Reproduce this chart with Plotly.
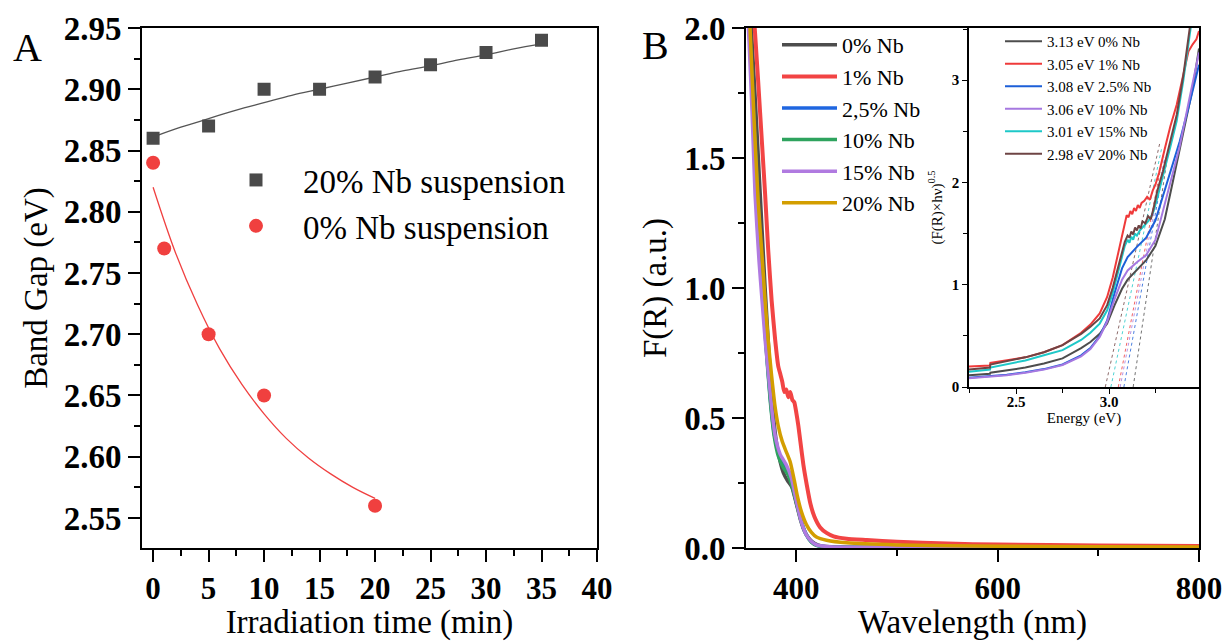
import plotly.graph_objects as go

SERIF = "Liberation Serif"
W, H = 1230, 641

# ---------------- Panel A data ----------------
time_20 = [0, 5, 10, 15, 20, 25, 30, 35]
gap_20 = [2.86, 2.87, 2.90, 2.90, 2.91, 2.92, 2.93, 2.94]
time_0 = [0, 1, 5, 10, 20]
gap_0 = [2.84, 2.77, 2.70, 2.65, 2.56]
fit20_t = [0, 2.5, 5, 7.5, 10, 12.5, 15, 17.5, 20, 22.5, 25, 27.5, 30, 32.5, 35]
fit20_g = [2.861, 2.869, 2.876, 2.883, 2.889, 2.895, 2.900, 2.905, 2.910, 2.915, 2.919, 2.924, 2.928, 2.933, 2.937]
fit0_t = [0, 2, 4, 6, 8, 10, 12, 14, 16, 18, 20]
fit0_g = [2.820, 2.767, 2.724, 2.688, 2.659, 2.635, 2.615, 2.599, 2.586, 2.575, 2.566]

# ---------------- Panel B data (main) ----------------
wl_0 = [350, 355, 359, 362, 366, 369, 373, 377, 380.5, 384, 387, 391, 395.5, 400, 404, 408, 413, 418, 425, 440, 500, 600, 800]
F_0 = [2.40, 2.02, 1.74, 1.52, 1.22, 1.00, 0.74, 0.52, 0.40, 0.33, 0.29, 0.26, 0.235, 0.17, 0.11, 0.065, 0.035, 0.018, 0.008, 0.004, 0.002, 0.001, 0.001]
wl_1 = [350, 356, 359, 362, 366, 369, 372, 375.5, 379, 382, 384, 386, 388, 390, 392, 394, 396, 398, 400, 402, 404, 407, 410.5, 414, 418, 423.5, 430, 437, 450, 470, 500, 550, 600, 700, 800]
F_1 = [2.70, 2.15, 1.98, 1.80, 1.55, 1.36, 1.15, 0.95, 0.80, 0.70, 0.67, 0.64, 0.60, 0.61, 0.58, 0.60, 0.57, 0.56, 0.52, 0.47, 0.41, 0.32, 0.24, 0.17, 0.12, 0.08, 0.058, 0.045, 0.036, 0.031, 0.024, 0.017, 0.013, 0.010, 0.008]
wl_25 = [350, 354, 358, 362, 366, 370, 374, 378, 383, 388, 393, 398, 402, 406, 410, 415, 420, 430, 500, 800]
F_25 = [2.25, 1.95, 1.62, 1.32, 1.02, 0.78, 0.58, 0.44, 0.36, 0.32, 0.28, 0.21, 0.15, 0.09, 0.05, 0.023, 0.011, 0.004, 0.002, 0.001]
wl_10 = [350, 354, 358, 362, 366, 370, 374, 378, 382, 387, 392, 397, 401, 405, 410, 415, 420, 430, 500, 800]
F_10 = [2.30, 1.97, 1.63, 1.32, 1.02, 0.77, 0.57, 0.43, 0.355, 0.31, 0.28, 0.22, 0.16, 0.10, 0.05, 0.022, 0.010, 0.004, 0.002, 0.001]
wl_15 = [350, 353, 356, 359, 363, 366, 369, 372.5, 376, 379, 384, 390, 395, 400, 405, 410, 415, 420, 430, 450, 500, 800]
F_15 = [2.20, 1.95, 1.68, 1.36, 1.10, 0.95, 0.80, 0.66, 0.52, 0.43, 0.36, 0.32, 0.27, 0.18, 0.10, 0.05, 0.025, 0.012, 0.006, 0.003, 0.002, 0.001]
wl_20 = [350, 354, 358, 362, 366, 369, 372, 375.5, 379, 382, 386, 390, 394, 398, 401, 405, 410, 415, 420, 430, 450, 500, 600, 700, 800]
F_20 = [2.50, 2.00, 1.65, 1.34, 1.12, 0.95, 0.80, 0.66, 0.54, 0.47, 0.41, 0.37, 0.33, 0.26, 0.20, 0.14, 0.09, 0.06, 0.042, 0.030, 0.020, 0.012, 0.007, 0.005, 0.004]

main_names = ["0% Nb", "1% Nb", "2,5% Nb", "10% Nb", "15% Nb", "20% Nb"]
main_colors = ["#4d4d4d", "#f24444", "#1f66e0", "#2ea35e", "#b07ae0", "#d39e00"]

# ---------------- Inset (Tauc) data ----------------
E_0 = [2.247, 2.36, 2.362, 2.45, 2.55, 2.65, 2.75, 2.85, 2.90, 2.95, 2.99, 3.03, 3.07, 3.10, 3.15, 3.20, 3.25, 3.30, 3.34, 3.38, 3.42, 3.45, 3.484]
T_0 = [0.115, 0.13, 0.14, 0.16, 0.19, 0.23, 0.28, 0.38, 0.44, 0.52, 0.62, 0.80, 0.96, 1.05, 1.14, 1.24, 1.38, 1.64, 1.98, 2.32, 2.66, 2.92, 3.31]
E_1 = [2.247, 2.30, 2.36, 2.362, 2.45, 2.55, 2.65, 2.75, 2.85, 2.90, 2.95, 2.99, 3.02, 3.05, 3.07, 3.085, 3.095, 3.105, 3.115, 3.125, 3.135, 3.145, 3.155, 3.165, 3.175, 3.19, 3.205, 3.22, 3.235, 3.25, 3.27, 3.30, 3.33, 3.364, 3.40, 3.427, 3.45, 3.47, 3.484]
T_1 = [0.20, 0.205, 0.21, 0.235, 0.26, 0.29, 0.34, 0.41, 0.53, 0.61, 0.72, 0.88, 1.07, 1.32, 1.50, 1.63, 1.68, 1.66, 1.72, 1.69, 1.75, 1.72, 1.78, 1.75, 1.80, 1.82, 1.86, 1.83, 1.92, 1.98, 2.10, 2.33, 2.55, 2.76, 3.05, 3.28, 3.35, 3.40, 3.48]
E_25 = [2.247, 2.36, 2.45, 2.55, 2.65, 2.75, 2.85, 2.90, 2.95, 2.99, 3.03, 3.07, 3.10, 3.15, 3.20, 3.25, 3.29, 3.33, 3.38, 3.43, 3.484]
T_25 = [0.09, 0.105, 0.12, 0.145, 0.175, 0.22, 0.31, 0.38, 0.50, 0.65, 0.92, 1.16, 1.27, 1.37, 1.46, 1.63, 1.87, 2.10, 2.40, 2.75, 3.15]
E_10 = [2.247, 2.36, 2.45, 2.55, 2.65, 2.75, 2.85, 2.90, 2.95, 2.99, 3.03, 3.07, 3.10, 3.15, 3.20, 3.25, 3.29, 3.33, 3.38, 3.43, 3.484]
T_10 = [0.085, 0.10, 0.115, 0.14, 0.17, 0.215, 0.30, 0.37, 0.49, 0.64, 0.86, 1.05, 1.14, 1.22, 1.29, 1.44, 1.72, 2.00, 2.35, 2.80, 3.27]
E_15 = [2.247, 2.36, 2.362, 2.45, 2.55, 2.65, 2.75, 2.85, 2.90, 2.95, 2.99, 3.02, 3.05, 3.07, 3.085, 3.10, 3.11, 3.12, 3.13, 3.14, 3.15, 3.165, 3.18, 3.195, 3.21, 3.225, 3.24, 3.26, 3.30, 3.33, 3.364, 3.40, 3.44]
T_15 = [0.15, 0.17, 0.19, 0.22, 0.26, 0.31, 0.36, 0.46, 0.53, 0.62, 0.75, 0.92, 1.13, 1.29, 1.38, 1.44, 1.41, 1.47, 1.44, 1.50, 1.48, 1.53, 1.56, 1.58, 1.62, 1.66, 1.72, 1.85, 2.12, 2.35, 2.60, 3.00, 3.52]
E_20 = [2.247, 2.36, 2.362, 2.45, 2.55, 2.65, 2.75, 2.85, 2.90, 2.95, 2.99, 3.02, 3.05, 3.07, 3.085, 3.10, 3.11, 3.12, 3.13, 3.14, 3.15, 3.16, 3.17, 3.18, 3.195, 3.21, 3.225, 3.24, 3.26, 3.29, 3.33, 3.364, 3.40, 3.435]
T_20 = [0.17, 0.19, 0.22, 0.25, 0.29, 0.34, 0.41, 0.52, 0.59, 0.67, 0.80, 0.97, 1.19, 1.33, 1.42, 1.48, 1.46, 1.52, 1.49, 1.56, 1.53, 1.58, 1.55, 1.62, 1.60, 1.67, 1.64, 1.75, 1.92, 2.11, 2.40, 2.66, 3.05, 3.52]

inset_names = ["3.13 eV 0% Nb", "3.05 eV 1% Nb", "3.08 eV 2.5% Nb", "3.06 eV 10% Nb", "3.01 eV 15% Nb", "2.98 eV 20% Nb"]
inset_colors = ["#4d4d4d", "#ef3a3a", "#1d5fd8", "#a678e0", "#1ec8c8", "#6e4444"]
# tangent (extrapolation) lines: start at band gap on the energy axis
tan_E0 = [3.13, 3.05, 3.08, 3.06, 3.01, 2.98]
tan_E1 = [3.31, 3.295, 3.305, 3.30, 3.285, 3.275]
tan_T1 = [2.20, 2.30, 2.25, 2.25, 2.35, 2.40]

# ---------------- geometry (pixels) ----------------
def xd(a, b):
    return [a / W, b / W]

def yd(top, bottom):
    return [1 - bottom / H, 1 - top / H]

fig = go.Figure()

# Panel A
fig.add_trace(go.Scatter(x=fit20_t, y=fit20_g, mode="lines", line=dict(color="#555555", width=1.3, shape="spline"),
                         showlegend=False, xaxis="x", yaxis="y", hoverinfo="skip"))
fig.add_trace(go.Scatter(x=fit0_t, y=fit0_g, mode="lines", line=dict(color="#f04040", width=1.3, shape="spline"),
                         showlegend=False, xaxis="x", yaxis="y", hoverinfo="skip"))
fig.add_trace(go.Scatter(x=time_20, y=gap_20, mode="markers", name="20% Nb suspension",
                         marker=dict(symbol="square", size=13, color="#4a4a4a"), xaxis="x", yaxis="y", legend="legend"))
fig.add_trace(go.Scatter(x=time_0, y=gap_0, mode="markers", name="0% Nb suspension",
                         marker=dict(symbol="circle", size=14, color="#f0403f"), xaxis="x", yaxis="y", legend="legend"))

# Panel B main
main_x = [wl_0, wl_1, wl_25, wl_10, wl_15, wl_20]
main_y = [F_0, F_1, F_25, F_10, F_15, F_20]
for nm, c, xs, ys in zip(main_names, main_colors, main_x, main_y):
    fig.add_trace(go.Scatter(x=xs, y=ys, mode="lines", name=nm,
                             line=dict(color=c, width=4 if nm == "1% Nb" else 3.5, shape="spline", smoothing=0.5),
                             xaxis="x2", yaxis="y2", legend="legend2"))

# Inset
for i, c in enumerate(inset_colors):
    fig.add_trace(go.Scatter(x=[tan_E0[i], tan_E1[i]], y=[0, tan_T1[i]], mode="lines",
                             line=dict(color=c, width=0.8, dash="dot"), showlegend=False,
                             xaxis="x3", yaxis="y3", hoverinfo="skip"))
inset_x = [E_0, E_1, E_25, E_10, E_15, E_20]
inset_y = [T_0, T_1, T_25, T_10, T_15, T_20]
for nm, c, xs, ys in zip(inset_names, inset_colors, inset_x, inset_y):
    fig.add_trace(go.Scatter(x=xs, y=ys, mode="lines", name=nm, line=dict(color=c, width=2),
                             xaxis="x3", yaxis="y3", legend="legend3"))

ytick_big = dict(family=SERIF, size=33, color="black", weight="bold")
xtick_big = dict(family=SERIF, size=31, color="black", weight="bold")
tick_small = dict(family=SERIF, size=15, color="black", weight="bold")
title_font = dict(family=SERIF, size=33, color="black")
small_title = dict(family=SERIF, size=15, color="black")

common = dict(showline=True, linecolor="black", linewidth=2, ticks="outside", ticklen=12, tickwidth=2,
              tickcolor="black", showgrid=False, zeroline=False, automargin=False)
inset_common = dict(showline=True, linecolor="black", linewidth=1.5, ticks="outside", ticklen=5, tickwidth=1.2,
                    tickcolor="black", showgrid=False, zeroline=False, automargin=False)

fig.update_layout(
    width=W, height=H, margin=dict(l=0, r=0, t=0, b=0),
    paper_bgcolor="white", plot_bgcolor="white",
    font=dict(family=SERIF, color="black"),
    xaxis=dict(domain=xd(142, 597), range=[-1, 40], dtick=5, tick0=0, mirror=True,
               tickfont=xtick_big, title=dict(text="Irradiation time (min)", font=title_font, standoff=5),
               minor=dict(dtick=2.5, ticks="outside", ticklen=6, tickwidth=2, tickcolor="black"), **common),
    yaxis=dict(domain=yd(28, 548), range=[2.5255, 2.95], dtick=0.05, tick0=2.55, tickformat=".2f", mirror=True,
               tickfont=ytick_big, title=dict(text="Band Gap (eV)", font=title_font, standoff=6),
               minor=dict(dtick=0.025, ticks="outside", ticklen=6, tickwidth=2, tickcolor="black"), **common),
    xaxis2=dict(domain=xd(746, 1199), range=[350, 800], dtick=200, tick0=400, mirror=True, anchor="y2",
                tickfont=xtick_big, title=dict(text="Wavelength (nm)", font=title_font, standoff=5),
                minor=dict(dtick=100, ticks="outside", ticklen=6, tickwidth=2, tickcolor="black"), **common),
    yaxis2=dict(domain=yd(28, 548), range=[0, 2], dtick=0.5, tickformat=".1f", mirror=True, anchor="x2",
                tickfont=ytick_big, title=dict(text="F(R) (a.u.)", font=title_font, standoff=8),
                minor=dict(dtick=0.25, ticks="outside", ticklen=6, tickwidth=2, tickcolor="black"), **common),
    xaxis3=dict(domain=xd(969, 1199), range=[2.247, 3.484], dtick=0.5, tick0=2.5, tickformat=".1f", anchor="y3",
                tickfont=tick_small, ticklabelstandoff=-5,
                title=dict(text="Energy (eV)", font=small_title, standoff=0),
                minor=dict(dtick=0.25, ticks="outside", ticklen=4, tickwidth=1.2, tickcolor="black"), **inset_common),
    yaxis3=dict(domain=yd(28, 387), range=[0, 3.51], dtick=1, tickformat="d", anchor="x3",
                tickfont=tick_small, title=dict(text="(F(R)×hν)<sup>0.5</sup>", font=small_title, standoff=6),
                minor=dict(dtick=0.5, ticks="outside", ticklen=4, tickwidth=1.2, tickcolor="black"), **inset_common),
    legend=dict(x=209 / W, y=1 - 152 / H, xanchor="left", yanchor="top", bgcolor="rgba(0,0,0,0)",
                itemwidth=84, font=dict(family=SERIF, size=33, color="black"), borderwidth=0),
    legend2=dict(x=777 / W, y=1 - 24 / H, xanchor="left", yanchor="top", bgcolor="rgba(0,0,0,0)",
                 itemwidth=55, font=dict(family=SERIF, size=22, color="black"), borderwidth=0),
    legend3=dict(x=1000 / W, y=1 - 25 / H, xanchor="left", yanchor="top", bgcolor="rgba(0,0,0,0)",
                 itemwidth=37, font=dict(family=SERIF, size=15, color="black"), borderwidth=0),
    annotations=[
        dict(text="A", x=27 / W, y=1 - 47 / H, xref="paper", yref="paper", showarrow=False,
             font=dict(family=SERIF, size=40, color="black"), xanchor="center", yanchor="middle"),
        dict(text="B", x=655 / W, y=1 - 45 / H, xref="paper", yref="paper", showarrow=False,
             font=dict(family=SERIF, size=40, color="black"), xanchor="center", yanchor="middle"),
    ],
)

fig.write_html("out.html")
